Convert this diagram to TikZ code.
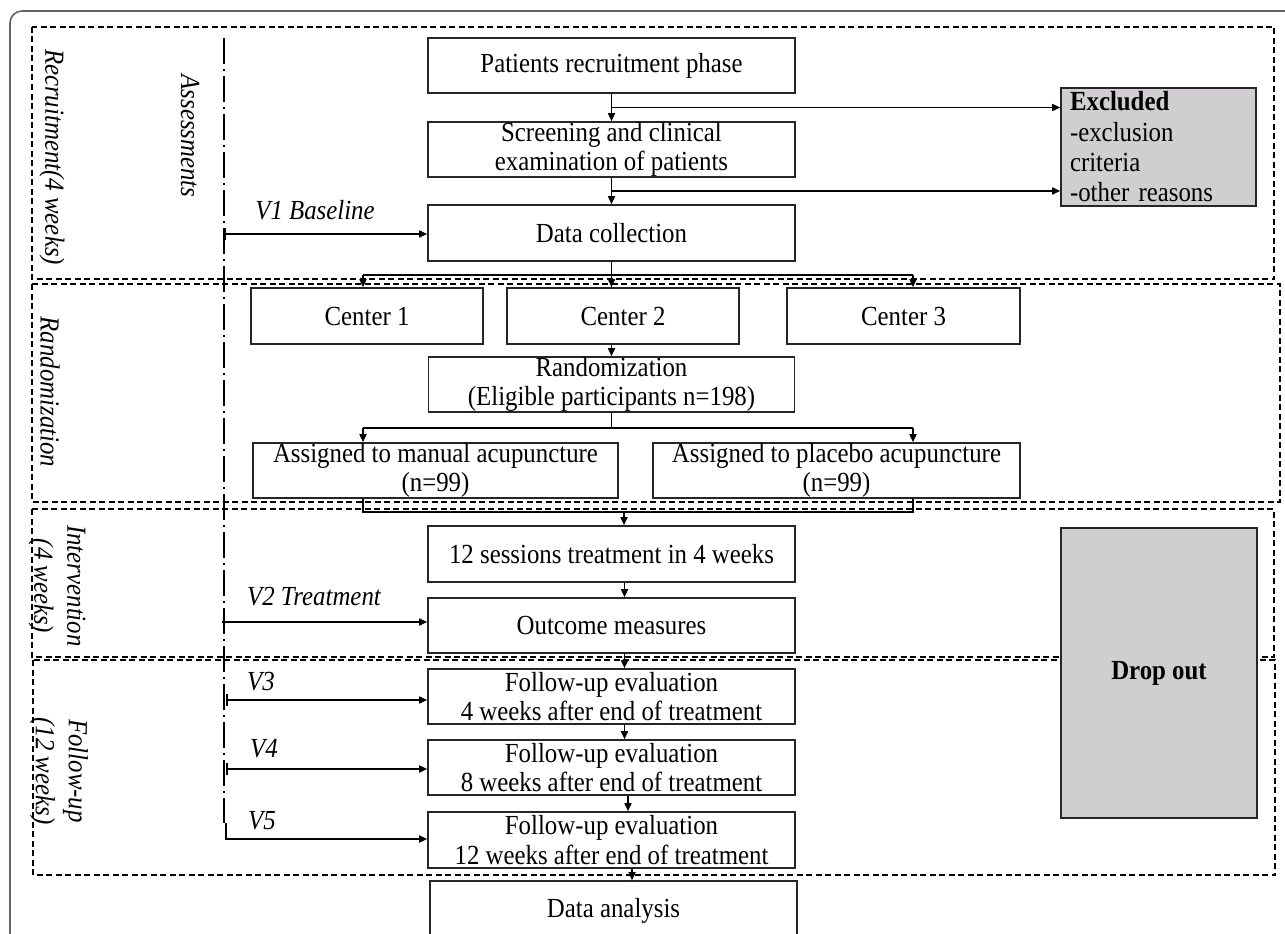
\documentclass[tikz,border=0pt]{standalone}
\usepackage{fontspec}
\setmainfont[FakeStretch=0.9]{Liberation Serif}
\usetikzlibrary{arrows.meta,calc}
\definecolor{dropgray}{RGB}{208,206,208}
\definecolor{framegray}{RGB}{100,100,100}
\begin{document}
\begin{tikzpicture}[x=1pt,y=-1pt,
  box/.style={draw=black!85,line width=1.6pt,inner sep=0pt,align=center,font=\fontsize{27.6}{29.3}\selectfont},
  graybox/.style={box,fill=dropgray},
  arr/.style={line width=1.6pt,-{Triangle[length=8pt,width=7pt]}},
  tarr/.style={line width=1.6pt,{Bar[width=12pt]}-{Triangle[length=8pt,width=7pt]}},
  ln/.style={line width=1.6pt},
  sect/.style={line width=1.3pt,dash pattern=on 6pt off 3.5pt},
  ddot/.style={line width=1.5pt,dash pattern=on 26pt off 5pt on 2pt off 5pt},
  lbl/.style={font=\fontsize{27.6}{33}\selectfont\itshape,align=center,inner sep=0pt},
  vlab/.style={font=\fontsize{27.6}{29}\selectfont\itshape,inner sep=0pt}]

\clip (0,0) rectangle (1285,934);
\useasboundingbox (0,0) rectangle (1285,934);
\fill[white] (0,0) rectangle (1285,934);

% outer figure frame
\draw[line width=1.6pt, draw=framegray, rounded corners=12pt] (10,11) rectangle (1330,990);

% section frames
\draw[sect] (32,27) rectangle (1274,279);
\draw[sect] (32,284) rectangle (1280,502);
\draw[sect] (32,509) rectangle (1274,657);
\draw[sect] (33,660) rectangle (1275,875);

% section labels
\node[lbl,rotate=-90] (lRec) at (52,157) {Recruitment(4 weeks)};
\node[lbl,rotate=-90] (lAss) at (190,136) {Assessments};
\node[lbl,rotate=-90] (lRan) at (50,392) {Randomization};
\node[lbl,rotate=-90] (lInt) at (57,586) {Intervention\\(4 weeks)};
\node[lbl,rotate=-90] (lFol) at (59,771) {Follow-up\\(12 weeks)};

% assessment time line
\coordinate (dtop) at (224,38);
\coordinate (dbot) at (224,823);
\draw[ddot] (dtop) -- (dbot);

% boxes
\node[box,minimum width=367pt,minimum height=55pt] (pr) at (611.5,65.5) {Patients recruitment phase};
\node[box,minimum width=367pt,minimum height=55pt] (scr) at (611.5,149.5) {Screening and clinical\\examination of patients};
\node[box,minimum width=367pt,minimum height=56pt] (dc) at (611.5,233) {Data collection};
\node[graybox,minimum width=195pt,minimum height=118pt,text width=177pt,align=left,font=\fontsize{27.6}{30.3}\selectfont] (exc) at (1158.5,147) {\textbf{Excluded}\\-exclusion\\criteria\\-other reasons};

\node[box,minimum width=232pt,minimum height=56pt] (c1) at (367,316) {Center 1};
\node[box,minimum width=232pt,minimum height=56pt] (c2) at (623,316) {Center 2};
\node[box,minimum width=233pt,minimum height=56pt] (c3) at (903.5,316) {Center 3};
\node[box,minimum width=366pt,minimum height=55pt] (rand) at (611.5,384.5) {Randomization\\(Eligible participants n=198)};
\node[box,minimum width=365pt,minimum height=55pt] (ma) at (435.5,470.5) {Assigned to manual acupuncture\\(n=99)};
\node[box,minimum width=367pt,minimum height=55pt] (pa) at (836.5,470.5) {Assigned to placebo acupuncture\\(n=99)};

\node[box,minimum width=367pt,minimum height=56pt] (ts) at (611.5,554) {12 sessions treatment in 4 weeks};
\node[box,minimum width=367pt,minimum height=55pt] (om) at (611.5,625.5) {Outcome measures};
\node[box,minimum width=367pt,minimum height=55pt] (fu1) at (611.5,696.5) {Follow-up evaluation\\4 weeks after end of treatment};
\node[box,minimum width=367pt,minimum height=55pt] (fu2) at (611.5,767.5) {Follow-up evaluation\\8 weeks after end of treatment};
\node[box,minimum width=367pt,minimum height=56pt] (fu3) at (611.5,840) {Follow-up evaluation\\12 weeks after end of treatment};
\node[box,minimum width=367pt,minimum height=60pt] (da) at (613.5,911) {Data analysis};

\node[graybox,minimum width=196pt,minimum height=290pt,font=\fontsize{27.6}{29}\selectfont\bfseries] (drop) at (1159,673) {Drop out};

% recruitment flow
\draw[arr] (pr.south) -- (scr.north);
\draw[arr] (scr.south) -- (dc.north);
\coordinate (e1) at ($(pr.south)!0.5!(scr.north)$);
\coordinate (e2) at ($(scr.south)!0.5!(dc.north)$);
\draw[arr] (e1) -- (exc.west |- e1);
\draw[arr] (e2) -- (exc.west |- e2);

% to centers
\coordinate (sp1) at (611.5,275);
\coordinate (cL) at (363,275);
\coordinate (cR) at (913,275);
\draw[ln] (dc.south) -- (sp1);
\draw[ln] (cL) -- (cR);
\draw[arr] (cL) -- (cL |- c1.north);
\draw[arr] (sp1) -- (sp1 |- c2.north);
\draw[arr] (cR) -- (cR |- c3.north);
\draw[arr] (rand.north |- c2.south) -- (rand.north);

% randomization split
\coordinate (sp2) at (611.5,428);
\coordinate (aL) at (363,428);
\coordinate (aR) at (913,428);
\draw[ln] (rand.south) -- (sp2);
\draw[ln] (aL) -- (aR);
\draw[arr] (aL) -- (aL |- ma.north);
\draw[arr] (aR) -- (aR |- pa.north);

% merge
\coordinate (mL) at (363,512);
\coordinate (mR) at (913,512);
\coordinate (mC) at (624,512);
\draw[ln] (mL |- ma.south) -- (mL) -- (mR) -- (mR |- pa.south);
\draw[arr] (mC) -- (mC |- ts.north);

% treatment and follow-up chain
\coordinate (k1) at (624.5,0);
\coordinate (k2) at (628,0);
\coordinate (k3) at (632,0);
\draw[arr] (k1 |- ts.south) -- (k1 |- om.north);
\draw[arr] (k1 |- om.south) -- (k1 |- fu1.north);
\draw[arr] (k1 |- fu1.south) -- (k1 |- fu2.north);
\draw[arr] (k2 |- fu2.south) -- (k2 |- fu3.north);
\draw[arr] (k3 |- fu3.south) -- (k3 |- da.north);

% visits
\coordinate (t1) at (224,234);
\coordinate (t2) at (222,622);
\coordinate (t3) at (226,700);
\coordinate (t4) at (226,769);
\coordinate (t5) at (226,839);
\draw[tarr] (t1) -- (dc.west |- t1);
\draw[arr] (t2) -- (om.west |- t2);
\draw[tarr] (t3) -- (fu1.west |- t3);
\draw[tarr] (t4) -- (fu2.west |- t4);
\draw[arr] (dbot -| t5) -- (t5) -- (fu3.west |- t5);

\node[vlab] (v1) at (315,210) {V1 Baseline};
\node[vlab] (v2) at (314,597) {V2 Treatment};
\node[vlab] (v3) at (261,682) {V3};
\node[vlab] (v4) at (264,749) {V4};
\node[vlab] (v5) at (262,821) {V5};
\end{tikzpicture}
\end{document}
